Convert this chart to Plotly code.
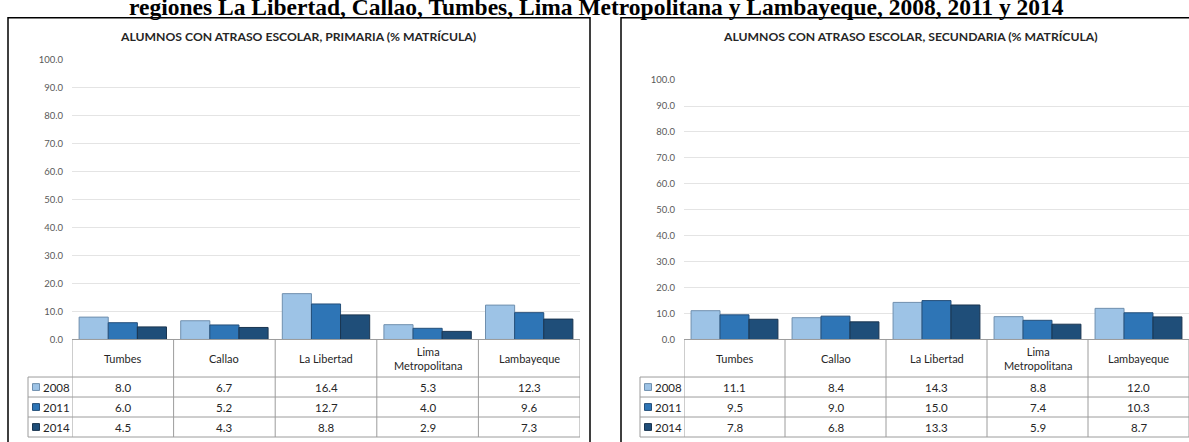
import plotly.graph_objects as go

# ---------------- data ----------------
categories = ["Tumbes", "Callao", "La Libertad", "Lima Metropolitana", "Lambayeque"]
category_labels = ["Tumbes", "Callao", "La Libertad", "Lima<br>Metropolitana", "Lambayeque"]
years = ["2008", "2011", "2014"]

primaria_2008 = [8.0, 6.7, 16.4, 5.3, 12.3]
primaria_2011 = [6.0, 5.2, 12.7, 4.0, 9.6]
primaria_2014 = [4.5, 4.3, 8.8, 2.9, 7.3]

secundaria_2008 = [11.1, 8.4, 14.3, 8.8, 12.0]
secundaria_2011 = [9.5, 9.0, 15.0, 7.4, 10.3]
secundaria_2014 = [7.8, 6.8, 13.3, 5.9, 8.7]

y_ticks = [0, 10, 20, 30, 40, 50, 60, 70, 80, 90, 100]

main_title = "regiones La Libertad, Callao, Tumbes, Lima Metropolitana y Lambayeque, 2008, 2011 y 2014"
title_prim = "ALUMNOS CON ATRASO ESCOLAR, PRIMARIA (% MATRÍCULA)"
title_sec = "ALUMNOS CON ATRASO ESCOLAR, SECUNDARIA (% MATRÍCULA)"

# ---------------- styling ----------------
W, H = 1189, 442
colors = ["#9dc3e6", "#2e75b6", "#1f4e79"]
edge_colors = ["#6f8fae", "#254f7a", "#1a3550"]
FONT = "Lato, 'Open Sans', sans-serif"
TXT = "#262626"
GRID = "#e4e4e4"
TABLE = "#9c9c9c"


def px(x):
    return x / W


def py(y):
    return 1 - y / H


panels = [
    dict(xa="x", ya="y", xname="xaxis", yname="yaxis", x0=72, x1=580, ytop=55.3,
         box=(8, 590), leg=28, title=title_prim, tcx=298,
         series=[primaria_2008, primaria_2011, primaria_2014]),
    dict(xa="x2", ya="y2", xname="xaxis2", yname="yaxis2", x0=684, x1=1189, ytop=76,
         box=(621, 1215), leg=640, title=title_sec, tcx=910,
         series=[secundaria_2008, secundaria_2011, secundaria_2014]),
]

Y0 = 342          # pixel row of value 0 / table top
ROW_TOP = 380.5   # first data row top
ROW_H = 20.5

fig = go.Figure()
shapes = []
annotations = []
layout_axes = {}

for p in panels:
    for yi, (yr, vals) in enumerate(zip(years, p["series"])):
        fig.add_trace(go.Bar(
            x=categories, y=vals, name=yr, xaxis=p["xa"], yaxis=p["ya"],
            marker=dict(color=colors[yi], line=dict(color=edge_colors[yi], width=1)),
            showlegend=False,
        ))
    layout_axes[p["xname"]] = dict(
        domain=[px(p["x0"]), px(p["x1"])], showticklabels=False, showgrid=False,
        zeroline=False, showline=False, ticks="", range=[-0.5, 4.5],
        anchor=p["ya"],
    )
    layout_axes[p["yname"]] = dict(
        domain=[py(Y0), py(p["ytop"])], range=[0, 100], tickvals=y_ticks,
        tickformat=".1f", showgrid=True, gridcolor=GRID, gridwidth=1,
        zeroline=False, showline=False, ticks="", ticklabelstandoff=8,
        tickfont=dict(family=FONT, size=9.5, color="#595959"),
        anchor=p["xa"],
    )
    # panel border
    shapes.append(dict(type="rect", xref="paper", yref="paper",
                       x0=px(p["box"][0]), x1=px(p["box"][1]), y0=py(470), y1=py(12),
                       line=dict(color="black", width=1.5), fillcolor="rgba(0,0,0,0)"))
    # chart title
    annotations.append(dict(text=p["title"], xref="paper", yref="paper",
                            x=px(p["tcx"]), y=py(31), xanchor="center", yanchor="middle",
                            showarrow=False,
                            font=dict(family=FONT, size=12.2, color=TXT, weight="bold")))
    # data table: horizontal lines
    shapes.append(dict(type="line", xref="paper", yref="paper",
                       x0=px(p["x0"]), x1=px(p["x1"]), y0=py(Y0), y1=py(Y0),
                       line=dict(color=TABLE, width=1)))
    for r in range(4):
        yy = ROW_TOP + r * ROW_H
        shapes.append(dict(type="line", xref="paper", yref="paper",
                           x0=px(p["leg"]), x1=px(p["x1"]), y0=py(yy), y1=py(yy),
                           line=dict(color=TABLE, width=1)))
    # vertical lines at category boundaries
    for i in range(len(categories) + 1):
        shapes.append(dict(type="line", xref=p["xa"], yref="paper",
                           x0=i - 0.5, x1=i - 0.5, y0=py(Y0), y1=py(ROW_TOP + 3 * ROW_H),
                           line=dict(color=TABLE, width=1)))
    shapes.append(dict(type="line", xref="paper", yref="paper",
                       x0=px(p["leg"]), x1=px(p["leg"]), y0=py(ROW_TOP), y1=py(ROW_TOP + 3 * ROW_H),
                       line=dict(color=TABLE, width=1)))
    # category header labels
    for c, lab in zip(categories, category_labels):
        annotations.append(dict(text=lab, xref=p["xa"], yref="paper", x=c, y=py(361),
                                xanchor="center", yanchor="middle", showarrow=False,
                                font=dict(family=FONT, size=11, color=TXT)))
    # value rows + legend keys
    for yi, (yr, vals) in enumerate(zip(years, p["series"])):
        cy = ROW_TOP + yi * ROW_H + ROW_H / 2
        for c, v in zip(categories, vals):
            annotations.append(dict(text=f"{v:.1f}", xref=p["xa"], yref="paper", x=c, y=py(cy),
                                    xanchor="center", yanchor="middle", showarrow=False,
                                    font=dict(family=FONT, size=11.5, color=TXT)))
        lx = p["leg"]
        shapes.append(dict(type="rect", xref="paper", yref="paper",
                           x0=px(lx + 4.5), x1=px(lx + 11.5), y0=py(cy + 3.5), y1=py(cy - 3.5),
                           fillcolor=colors[yi], line=dict(color=edge_colors[yi], width=1)))
        annotations.append(dict(text=yr, xref="paper", yref="paper", x=px(lx + 13), y=py(cy),
                                xanchor="left", yanchor="middle", showarrow=False,
                                font=dict(family=FONT, size=11.5, color=TXT)))

# main (cropped) title
annotations.append(dict(text=main_title, xref="paper", yref="paper", x=px(596), y=py(1.5),
                        xanchor="center", yanchor="middle", showarrow=False,
                        font=dict(family="'Liberation Serif', 'Times New Roman', serif",
                                  size=23.5, color="black", weight="bold")))

fig.update_layout(
    width=W, height=H, margin=dict(l=0, r=0, t=0, b=0),
    paper_bgcolor="white", plot_bgcolor="white",
    barmode="group", bargap=0.14, bargroupgap=0,
    shapes=shapes, annotations=annotations, showlegend=False,
    **layout_axes,
)

fig.write_html(
    "out.html",
    config={"displayModeBar": False},
    post_script="document.body.style.margin='0';document.documentElement.style.overflow='hidden';",
)
